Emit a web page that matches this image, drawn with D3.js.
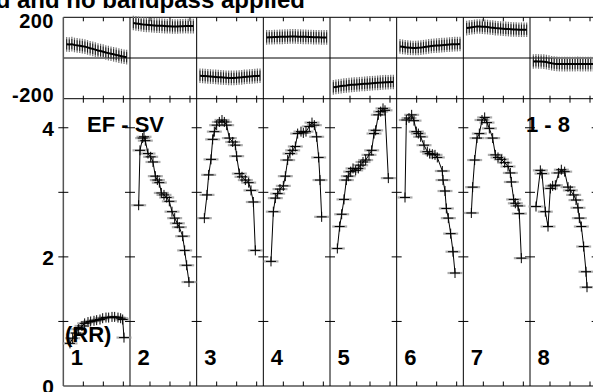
<!DOCTYPE html>
<html><head><meta charset="utf-8">
<script src="https://cdn.jsdelivr.net/npm/d3@7"></script>
<style>html,body{margin:0;padding:0;background:#fff;overflow:hidden}</style>
</head><body>
<svg id="c" width="593" height="392"></svg>
<script>
// ---- data ----
const panelLabels = ["1","2","3","4","5","6","7","8"];
const topTicks = [-200, 200];
const botTicks = [0, 2, 4];
const botMinor = [1, 2, 3, 4];
const xTicksInPanel = [0.3, 0.6, 0.9];

// top panel: evenly sampled beat values (24 per panel)
const topT = [0.05,0.089,0.128,0.167,0.207,0.246,0.285,0.324,0.363,0.402,0.441,0.480,0.520,0.559,0.598,0.637,0.676,0.715,0.754,0.793,0.833,0.872,0.911,0.95];
const top1 = [67,66,68,64,62,60,58,56,52,48,45,41,37,34,31,27,24,21,18,15,12,9,6,4];
const top2 = [172,170,168,166,164,163,162,161,160,159,159,158,157,156,156,155,155,155,156,156,157,157,157,157];
const top3 = [-87,-88,-89,-90,-91,-92,-93,-94,-95,-96,-97,-98,-98,-98,-97,-96,-95,-93,-92,-91,-90,-89,-88,-87];
const top4 = [101,102,102,103,103,104,104,105,105,106,106,106,105,105,104,104,103,103,102,102,102,101,101,101];
const top5 = [-144,-142,-140,-138,-136,-135,-133,-132,-131,-130,-129,-128,-127,-126,-125,-124,-123,-122,-121,-120,-119,-119,-118,-118];
const top6 = [57,55,53,51,50,49,49,50,51,53,55,57,59,60,61,62,63,64,65,66,67,68,68,69];
const top7 = [147,149,151,153,155,155,154,153,152,150,149,147,146,145,144,143,142,141,140,140,139,139,139,139];
const top8 = [-17,-16,-17,-17,-18,-20,-23,-26,-28,-29,-30,-30,-30,-30,-30,-30,-30,-29,-30,-30,-30,-30,-30,-30];
const topErr = 36;

// bottom panel: EF - SV curves (time within beat, value)
const t1 = [0.10,0.14,0.19,0.23,0.28,0.32,0.37,0.41,0.46,0.50,0.55,0.59,0.64,0.68,0.73,0.77,0.82,0.86,0.89,0.91];
const v1 = [0.66,0.74,0.82,0.88,0.93,0.97,0.99,1.00,1.01,1.02,1.03,1.05,1.06,1.06,1.07,1.07,1.06,1.05,1.03,0.75];
const t2 = [0.13,0.15,0.19,0.21,0.23,0.27,0.31,0.345,0.38,0.41,0.44,0.47,0.51,0.55,0.59,0.63,0.67,0.71,0.74,0.79,0.82,0.85,0.885];
const v2 = [2.80,3.65,3.84,3.86,3.80,3.60,3.55,3.47,3.25,3.19,3.15,2.99,2.96,2.92,2.86,2.70,2.60,2.52,2.46,2.32,2.10,1.87,1.61];
const t3 = [0.115,0.155,0.18,0.215,0.24,0.265,0.30,0.34,0.38,0.415,0.45,0.49,0.54,0.58,0.60,0.64,0.68,0.73,0.78,0.815,0.85,0.88];
const v3 = [2.60,2.96,3.27,3.51,3.82,3.94,4.04,4.09,4.12,4.09,4.04,3.84,3.78,3.73,3.56,3.29,3.24,3.19,3.15,3.03,2.85,2.10];
const t4 = [0.115,0.15,0.18,0.215,0.25,0.30,0.33,0.365,0.40,0.44,0.48,0.515,0.565,0.60,0.64,0.69,0.73,0.765,0.80,0.83,0.85,0.875];
const v4 = [1.93,2.70,2.91,2.98,3.05,3.10,3.25,3.50,3.60,3.65,3.71,3.91,3.94,3.92,3.94,4.02,4.08,4.04,3.86,3.54,3.19,2.62];
const t5 = [0.11,0.145,0.175,0.21,0.245,0.275,0.31,0.345,0.385,0.425,0.46,0.495,0.535,0.585,0.625,0.66,0.685,0.725,0.76,0.795,0.825,0.875];
const v5 = [2.13,2.47,2.66,2.89,3.19,3.25,3.32,3.37,3.34,3.37,3.42,3.47,3.50,3.58,3.65,3.91,3.96,4.20,4.25,4.30,4.27,3.22];
const t6 = [0.125,0.145,0.185,0.225,0.26,0.295,0.325,0.36,0.41,0.46,0.495,0.535,0.575,0.61,0.685,0.695,0.725,0.745,0.775,0.81,0.845,0.875];
const v6 = [2.92,4.12,4.15,4.20,4.11,3.94,3.91,3.86,3.73,3.63,3.60,3.59,3.58,3.54,3.33,3.19,3.02,2.75,2.60,2.36,2.08,1.75];
const t7 = [0.12,0.14,0.17,0.205,0.24,0.28,0.32,0.355,0.39,0.44,0.48,0.52,0.57,0.62,0.67,0.705,0.72,0.755,0.78,0.82,0.84,0.87];
const v7 = [2.68,3.08,3.50,3.84,3.91,4.12,4.16,4.08,3.99,3.84,3.58,3.54,3.51,3.46,3.40,3.30,3.16,2.89,2.83,2.79,2.67,1.98];
const t8 = [0.09,0.155,0.18,0.23,0.27,0.305,0.34,0.38,0.43,0.47,0.52,0.57,0.605,0.655,0.69,0.72,0.74,0.77,0.805,0.84,0.855];
const v8 = [2.78,3.34,3.29,2.70,2.47,3.06,3.10,3.11,3.30,3.35,3.32,3.08,3.03,2.96,2.88,2.76,2.60,2.47,2.16,1.77,1.53];

const topSeries = [top1,top2,top3,top4,top5,top6,top7,top8];
const botT = [t1,t2,t3,t4,t5,t6,t7,t8];
const botV = [v1,v2,v3,v4,v5,v6,v7,v8];

// ---- drawing ----
const svg = d3.select("#c");
const x = d3.scaleLinear().domain([0, 8]).range([63.33, 596.67]);
const yT = d3.scaleLinear().domain([-200, 200]).range([98.7, 17.3]);
const yB = d3.scaleLinear().domain([0, 4.45]).range([386, 98.7]);
const font = "'Liberation Sans', Arial, Helvetica, sans-serif";

const frame = svg.append("g").attr("stroke", "#000").attr("stroke-width", 1).attr("fill", "none");
[yT(200), yT(-200), yB(0)].forEach(yy => frame.append("line").attr("x1", x(0)).attr("x2", x(8)).attr("y1", yy).attr("y2", yy));
frame.append("line").attr("x1", x(0)).attr("x2", x(8)).attr("y1", yT(0)).attr("y2", yT(0));
d3.range(9).forEach(i => frame.append("line").attr("x1", x(i)).attr("x2", x(i)).attr("y1", yT(200)).attr("y2", yB(0))
  .attr("stroke-width", i === 0 ? 1.5 : 1).attr("stroke", i === 0 ? "#555" : "#000"));
d3.range(8).forEach(i => xTicksInPanel.forEach(f => {
  const xx = x(i + f);
  frame.append("line").attr("x1", xx).attr("x2", xx).attr("y1", yT(200)).attr("y2", yT(200) + 4);
  frame.append("line").attr("x1", xx).attr("x2", xx).attr("y1", yT(-200) - 3).attr("y2", yT(-200) + 4);
  frame.append("line").attr("x1", xx).attr("x2", xx).attr("y1", yB(0) - 4.5).attr("y2", yB(0));
}));
d3.range(9).forEach(i => botMinor.forEach(v => {
  frame.append("line").attr("x1", x(i) - 5).attr("x2", x(i) + 5).attr("y1", yB(v)).attr("y2", yB(v));
}));

// top panel data
const tg = svg.append("g");
topSeries.forEach((arr, p) => {
  tg.selectAll(null).data(arr).enter().append("line")
    .attr("x1", (d, j) => x(p + topT[j])).attr("x2", (d, j) => x(p + topT[j]))
    .attr("y1", d => yT(d + topErr)).attr("y2", d => yT(d - topErr))
    .attr("stroke", "#777").attr("stroke-width", 1.2);
  tg.selectAll(null).data(arr).enter().append("line")
    .attr("x1", (d, j) => x(p + topT[j])).attr("x2", (d, j) => x(p + topT[j]))
    .attr("y1", d => yT(d + topErr * 0.7)).attr("y2", d => yT(d - topErr * 0.7))
    .attr("stroke", "#000").attr("stroke-width", 0.8);
  tg.append("path").datum(arr)
    .attr("d", d3.line().x((d, j) => x(p + topT[j])).y(d => yT(d)))
    .attr("fill", "none").attr("stroke", "#000").attr("stroke-width", 2);
});

// bottom panel data
const bg = svg.append("g");
botV.forEach((vals, p) => {
  const pts = vals.map((v, j) => [x(p + botT[p][j]), yB(v)]);
  bg.selectAll(null).data(pts).enter().append("line")
    .attr("x1", d => d[0] - 7.5).attr("x2", d => d[0] + 7.5).attr("y1", d => d[1]).attr("y2", d => d[1])
    .attr("stroke", "#999").attr("stroke-width", 2.2).attr("opacity", 0.8);
  bg.append("path").datum(pts).attr("d", d3.line())
    .attr("fill", "none").attr("stroke", "#000").attr("stroke-width", 1);
  const m = bg.selectAll(null).data(pts).enter().append("g").attr("stroke", "#000").attr("stroke-width", 1);
  m.append("line").attr("x1", d => d[0] - 5).attr("x2", d => d[0] + 5).attr("y1", d => d[1]).attr("y2", d => d[1]);
  m.append("line").attr("x1", d => d[0]).attr("x2", d => d[0]).attr("y1", d => d[1] - 5).attr("y2", d => d[1] + 5);
});

// text
const txt = svg.append("g").attr("font-family", font).attr("font-weight", "bold").attr("fill", "#000");
txt.append("text").attr("x", 305).attr("y", 7.5).attr("text-anchor", "end").attr("font-size", 24)
  .text("d and no bandpass applied");
topTicks.forEach(v => txt.append("text").attr("x", 54).attr("y", v > 0 ? yT(v) + 10.5 : yT(v) + 3.5)
  .attr("text-anchor", "end").attr("font-size", 20).attr("letter-spacing", 0.5).text(v));
botTicks.forEach(v => txt.append("text").attr("x", 54).attr("y", yB(v) + 8)
  .attr("text-anchor", "end").attr("font-size", 21).text(v));
txt.append("text").attr("x", 87).attr("y", 131.5).attr("font-size", 22).text("EF - SV");
txt.append("text").attr("x", 526).attr("y", 131.5).attr("font-size", 22).text("1 - 8");
txt.append("text").attr("x", 65).attr("y", 342).attr("font-size", 22).text("(RR)");
panelLabels.forEach((l, i) => txt.append("text").attr("x", x(i) + 7.5).attr("y", 365).attr("font-size", 22).text(l));
</script>
</body></html>
